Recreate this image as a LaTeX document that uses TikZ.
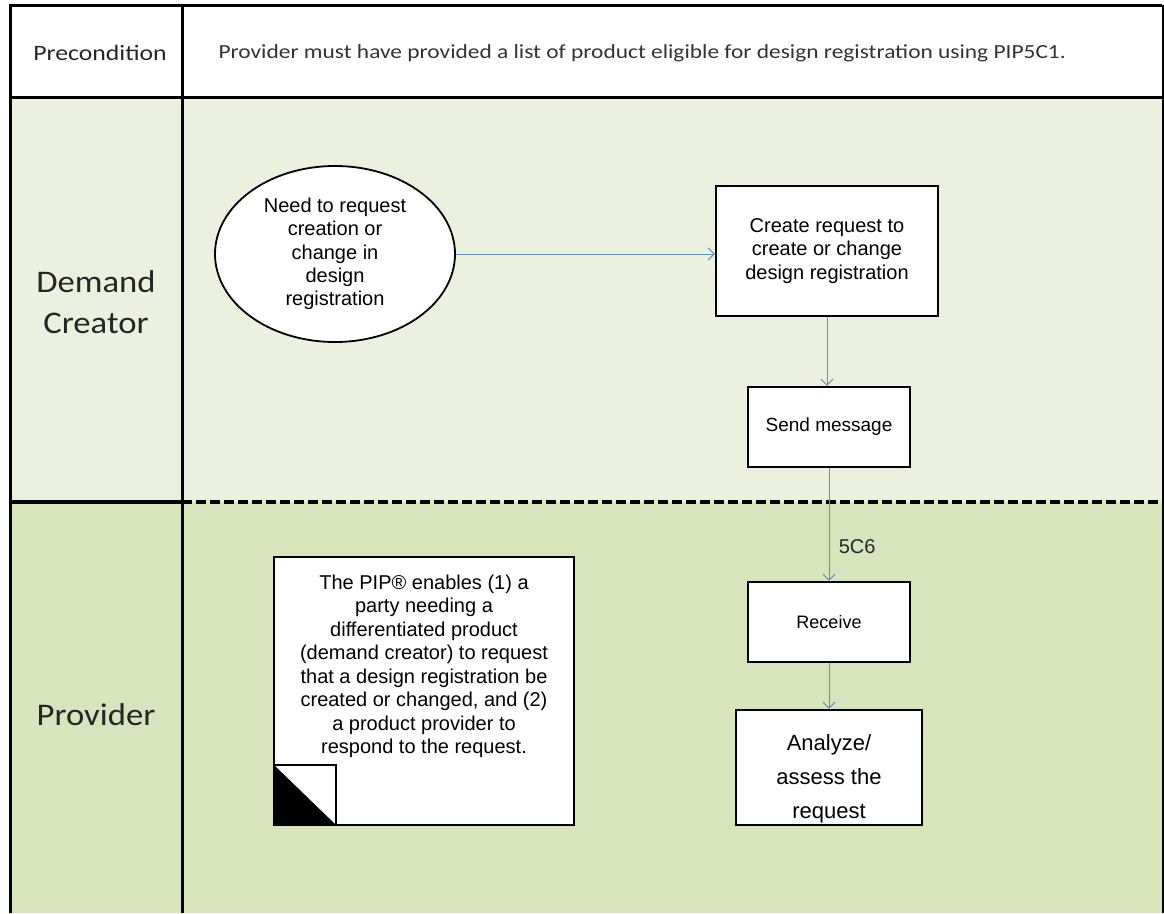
\documentclass[tikz,border=0pt]{standalone}
\usepackage{fontspec}
\setmainfont{Liberation Sans}
\newfontfamily\calfont[FakeStretch=1.17]{Carlito}
\newfontfamily\lanefont[FakeStretch=1.1]{Carlito}
\usetikzlibrary{shapes.geometric,arrows.meta}
\definecolor{laneA}{HTML}{EBF1DE}
\definecolor{laneB}{HTML}{D8E4BC}
\definecolor{flow}{HTML}{6690C2}
\begin{document}
\begin{tikzpicture}[x=1pt,y=-1pt,
  proc/.style={draw=black, line width=2.4pt, fill=white, align=center, inner sep=0pt, font=\fontsize{20}{23.5}\selectfont},
  flowarrow/.style={draw=flow, line width=1pt, -{Straight Barb[length=6pt,width=12pt]}},
  lanelabel/.style={font=\lanefont\fontsize{31.5}{41}\selectfont, align=center, text=black!85},
  border/.style={line width=3pt, black}]
\useasboundingbox (0,0) rectangle (1164,913);
\fill[white] (0,0) rectangle (1164,913);
\fill[laneA] (10,97) rectangle (1164,502);
\fill[laneB] (10,502) rectangle (1164,913);
% table lines
\draw[border] (10,913) -- (10,5) -- (1162,5);
\draw[line width=2pt] (1162.5,5) -- (1162.5,913);
\draw[border] (10,97) -- (1162,97);
\draw[border] (182,5) -- (182,913);
\draw[line width=3.5pt] (10,502) -- (182,502);
\draw[line width=3.5pt, dash pattern=on 10pt off 4pt] (182,502) -- (1164,502);
% header texts
\node[font=\calfont\fontsize{22}{26}\selectfont, text=black!85] (pre) at (100,53) {Precondition};
\node[font=\calfont\fontsize{20}{24}\selectfont, anchor=west, text=black!80] (pretext) at (215,53) {Provider must have provided a list of product eligible for design registration using PIP5C1.};
\node[lanelabel] (dc) at (96,302) {Demand\\Creator};
\node[lanelabel] (pv) at (96,715) {Provider};
% flow nodes
\node[ellipse, draw=black, line width=1.8pt, fill=white, minimum width=240pt, minimum height=176pt, align=center, inner sep=0pt, font=\fontsize{20}{23.3}\selectfont] (need) at (335,254) {Need to request\\creation or\\change in\\design\\registration};
\node[proc, minimum width=222pt, minimum height=130pt] (create) at (827,251) {Create request to\\create or change\\design registration};
\node[proc, minimum width=162pt, minimum height=80pt, font=\fontsize{19}{23}\selectfont] (send) at (829,427) {Send message};
\node[proc, minimum width=162pt, minimum height=80pt, font=\fontsize{18}{22}\selectfont] (recv) at (829,622) {Receive};
\node[proc, minimum width=186pt, minimum height=115pt] (anal) at (829,767.5) {};
\node[align=center, font=\fontsize{22}{34}\selectfont] (analtext) at ([yshift=-11pt]anal.center) {Analyze/\\assess the\\request};
\node[proc, minimum width=300pt, minimum height=268pt, line width=2pt] (note) at (424,691) {};
\node[align=center, anchor=north, font=\fontsize{20}{23.5}\selectfont] (notetext) at (424,571) {The PIP\textregistered{} enables (1) a\\party needing a\\differentiated product\\(demand creator) to request\\that a design registration be\\created or changed, and (2)\\a product provider to\\respond to the request.};
\coordinate (cTL) at (274,765);
\coordinate (cTR) at (336,765);
\coordinate (cBR) at (336,825);
\coordinate (cBL) at (274,825);
\fill[black] (cTL) -- (cBR) -- (cBL) -- cycle;
\draw[line width=1.6pt] (cTL) -- (cTR) -- (cBR);
% connectors
\draw[flowarrow] (need.east) -- (need.east -| create.west);
\draw[flowarrow] (create.south) -- (send.north -| create.south);
\draw[flowarrow] (send.south) -- (recv.north) node[pos=0.7, right=6pt, font=\fontsize{20}{24}\selectfont, text=black!85] (lbl) {5C6};
\draw[flowarrow] (recv.south) -- (anal.north);
\end{tikzpicture}
\end{document}
